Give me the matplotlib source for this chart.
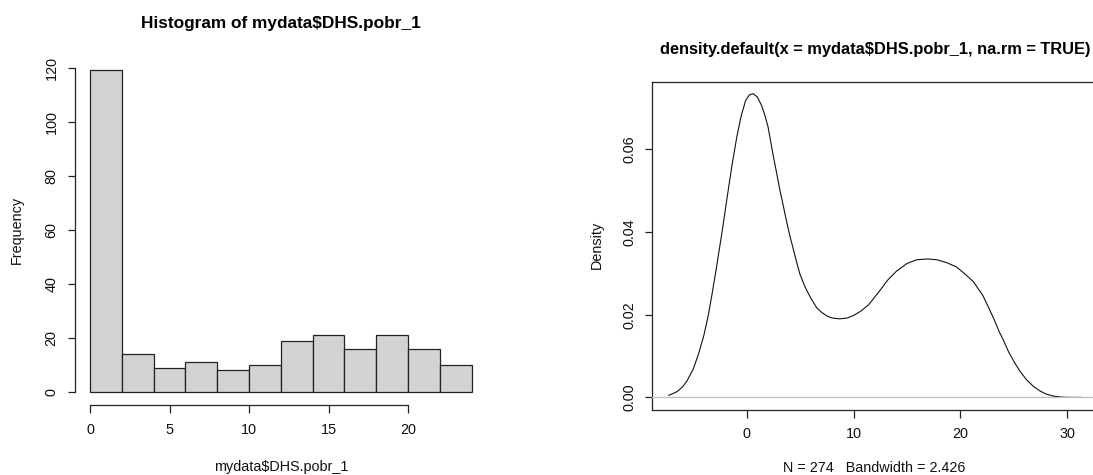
import matplotlib
matplotlib.use('Agg')
import matplotlib.pyplot as plt
import numpy as np

plt.rcParams['font.family'] = ['Liberation Sans', 'DejaVu Sans']

# histogram: bins of width 2 from 0 to 24
bin_edges = [0, 2, 4, 6, 8, 10, 12, 14, 16, 18, 20, 22, 24]
counts = [119, 14, 9, 11, 8, 10, 19, 21, 16, 21, 16, 10]

# density curve
dens_x = [-7.28, -6.9, -6.5, -6.0, -5.6, -5.0, -4.5, -4.0, -3.6, -3.2, -2.8, -2.3,
          -1.8, -1.35, -0.9, -0.5, -0.1, 0.25, 0.6, 1.0, 1.4, 1.7, 2.0, 2.4, 2.75,
          3.1, 3.4, 3.7, 4.05, 4.4, 4.7, 5.0, 5.45, 6.0, 6.55, 7.0, 7.5, 8.0, 8.7,
          9.4, 10.0, 10.7, 11.4, 12.3, 13.2, 14.0, 15.0, 15.9, 16.9, 17.8, 18.7,
          19.6, 20.4, 21.2, 22.1, 22.6, 23.1, 23.6, 24.0, 24.5, 25.1, 25.6, 26.2,
          26.8, 27.4, 28.0, 28.7, 29.3, 29.9, 31.28]
dens_y = [0.0005, 0.0009, 0.0014, 0.0025, 0.0039, 0.0068, 0.0105, 0.0150, 0.0197,
          0.0255, 0.0318, 0.0400, 0.0488, 0.0565, 0.0633, 0.0682, 0.0718, 0.0732,
          0.0735, 0.0727, 0.0706, 0.0683, 0.0655, 0.0597, 0.0550, 0.0503, 0.0467,
          0.0430, 0.0390, 0.0355, 0.0325, 0.0297, 0.0268, 0.0240, 0.0217, 0.0206,
          0.0197, 0.0192, 0.0190, 0.0192, 0.0198, 0.0209, 0.0224, 0.0253, 0.0284,
          0.0305, 0.0324, 0.0333, 0.0335, 0.0333, 0.0326, 0.0316, 0.0299, 0.0280,
          0.0246, 0.0219, 0.0191, 0.0160, 0.0139, 0.0110, 0.0082, 0.0062, 0.0042,
          0.0027, 0.0016, 0.0008, 0.0003, 0.0001, 0.0, 0.0]

hist_xticks = [0, 5, 10, 15, 20]
hist_yticks = [0, 20, 40, 60, 80, 100, 120]
dens_xticks = [0, 10, 20, 30]
dens_yticks = [0.00, 0.02, 0.04, 0.06]

W, H = 1093, 475
fig = plt.figure(figsize=(W / 100, H / 100), dpi=100)
fs = 10.4
tfs = 12.4

def pad4(lo, hi):
    d = (hi - lo) * 0.04
    return lo - d, hi + d

# ---- left: histogram
ax1 = fig.add_axes([74.7 / W, 1 - 404.9 / H, 412.3 / W, 347.4 / H])
widths = np.diff(bin_edges)
ax1.bar(bin_edges[:-1], counts, width=widths, align='edge',
        color='#d3d3d3', edgecolor='#222222', linewidth=0.9)
ax1.set_xlim(*pad4(bin_edges[0], bin_edges[-1]))
ax1.set_ylim(*pad4(0, max(counts)))
ax1.spines['top'].set_visible(False)
ax1.spines['right'].set_visible(False)
ax1.spines['left'].set_bounds(hist_yticks[0], hist_yticks[-1])
ax1.spines['bottom'].set_bounds(hist_xticks[0], hist_xticks[-1])
ax1.set_xticks(hist_xticks)
ax1.set_yticks(hist_yticks)
ax1.set_yticklabels([str(v) for v in hist_yticks])

# ---- right: density
ax2 = fig.add_axes([652.3 / W, 1 - 409.5 / H, 445.3 / W, 328.0 / H])
ax2.plot(dens_x, dens_y, color='#111111', linewidth=0.8)
ax2.axhline(0, color='#bebebe', linewidth=0.9, zorder=3)
ax2.set_xlim(*pad4(min(dens_x), max(dens_x)))
ax2.set_ylim(*pad4(0, max(dens_y)))
ax2.set_xticks(dens_xticks)
ax2.set_yticks(dens_yticks)
ax2.set_yticklabels(['%.2f' % v for v in dens_yticks])

for ax in (ax1, ax2):
    for s in ax.spines.values():
        s.set_linewidth(0.9)
        s.set_color('#222222')
    ax.tick_params(length=5.4, width=0.9, color='#222222', labelsize=fs,
                   labelcolor='#111111')
    ax.tick_params(axis='x', pad=7.5)
    ax.tick_params(axis='y', pad=6.3)
    plt.setp(ax.get_yticklabels(), rotation=90, va='center')

# titles and labels
fig.text(280.9 / W, 1 - 23.3 / H, 'Histogram of mydata$DHS.pobr_1',
         fontsize=tfs, fontweight='bold', ha='center', va='center')
fig.text(281 / W, 1 - 466.7 / H, 'mydata$DHS.pobr_1', fontsize=fs,
         ha='center', va='center', color='#111111')
fig.text(16.4 / W, 1 - 230 / H, 'Frequency', fontsize=fs, rotation=90,
         ha='center', va='center', color='#111111')

fig.text(875 / W, 1 - 49.3 / H, 'density.default(x = mydata$DHS.pobr_1, na.rm = TRUE)',
         fontsize=11.8, fontweight='bold', ha='center', va='center')
fig.text(874 / W, 1 - 467.7 / H, 'N = 274   Bandwidth = 2.426', fontsize=fs,
         ha='center', va='center', color='#111111')
fig.text(596.5 / W, 1 - 245 / H, 'Density', fontsize=fs, rotation=90,
         ha='center', va='center', color='#111111')

fig.savefig('out.png', dpi=100)
